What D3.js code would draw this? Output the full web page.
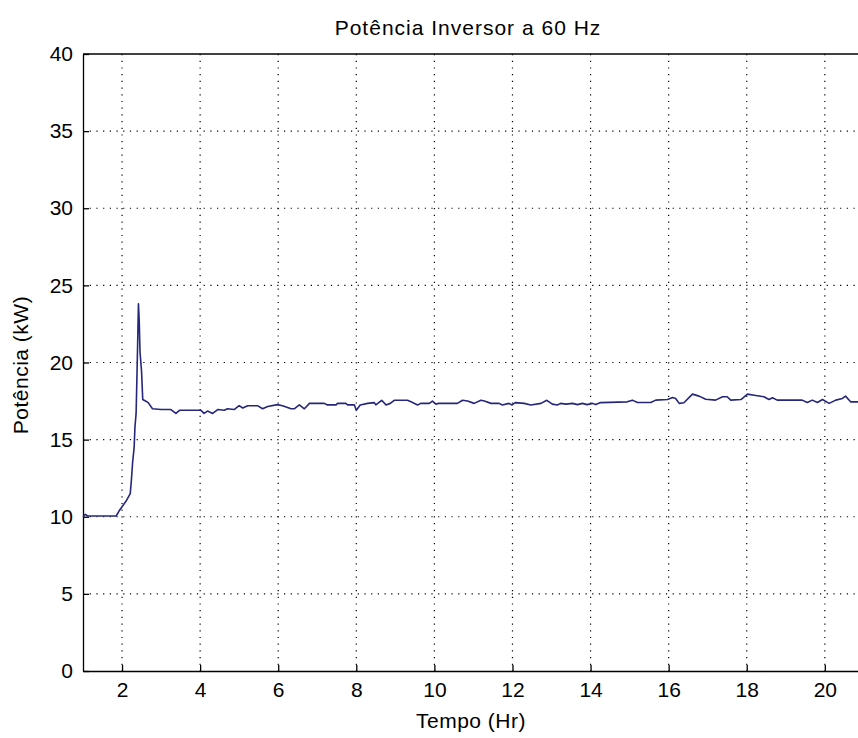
<!DOCTYPE html>
<html>
<head>
<meta charset="utf-8">
<script src="https://d3js.org/d3.v7.min.js"></script>
<style>
  body { margin: 0; background: #ffffff; }
  text { font-family: "Liberation Sans", Arial, sans-serif; fill: #000; }
</style>
</head>
<body>
<div id="chart"></div>
<script>
// Data: time in hours, inverter power in kW
var timeHr = [1.0, 1.06, 1.12, 1.85, 1.93, 2.1, 2.21, 2.24, 2.27, 2.31, 2.33, 2.36, 2.38, 2.40, 2.42,
  2.44, 2.46, 2.50, 2.53, 2.60, 2.67, 2.78, 3.0, 3.25, 3.38, 3.47, 4.02, 4.1, 4.19, 4.32, 4.45,
  4.62, 4.7, 4.87, 5.0, 5.09, 5.22, 5.47, 5.6, 5.73, 5.98, 6.11, 6.33, 6.41, 6.54, 6.67, 6.8,
  7.18, 7.26, 7.48, 7.52, 7.73, 7.78, 7.95, 8.0, 8.1, 8.29, 8.46, 8.5, 8.65, 8.76, 8.87, 8.97,
  9.31, 9.4, 9.57, 9.65, 9.87, 9.95, 10.04, 10.1, 10.59, 10.72, 10.85, 11.02, 11.19, 11.28,
  11.45, 11.66, 11.74, 11.91, 11.99, 12.07, 12.3, 12.47, 12.73, 12.88, 13.02, 13.15, 13.23,
  13.37, 13.54, 13.66, 13.79, 13.91, 14.05, 14.13, 14.26, 14.94, 15.07, 15.2, 15.54, 15.67,
  15.97, 16.1, 16.18, 16.27, 16.39, 16.61, 16.78, 16.95, 17.2, 17.38, 17.5, 17.59, 17.85,
  18.02, 18.19, 18.44, 18.57, 18.66, 18.78, 19.42, 19.55, 19.68, 19.81, 19.94, 20.11, 20.28,
  20.45, 20.53, 20.66, 21.0];

var powerKW = [10.0, 10.15, 10.05, 10.05, 10.4, 11.0, 11.5, 12.4, 13.5, 14.5, 15.8, 16.7, 18.9, 21.3, 23.8,
  22.7, 20.7, 19.4, 17.6, 17.5, 17.4, 17.0, 16.95, 16.95, 16.7, 16.9, 16.9, 16.7, 16.85, 16.7, 16.95,
  16.9, 17.0, 16.95, 17.2, 17.05, 17.2, 17.2, 17.0, 17.15, 17.27, 17.2, 17.0, 17.0, 17.25, 17.0, 17.35,
  17.35, 17.25, 17.25, 17.35, 17.35, 17.25, 17.25, 16.9, 17.25, 17.35, 17.4, 17.25, 17.55, 17.25, 17.35, 17.55,
  17.55, 17.45, 17.25, 17.35, 17.35, 17.5, 17.3, 17.35, 17.35, 17.55, 17.5, 17.35, 17.55, 17.5,
  17.35, 17.35, 17.25, 17.35, 17.25, 17.4, 17.35, 17.25, 17.35, 17.55, 17.3, 17.25, 17.35,
  17.3, 17.35, 17.27, 17.35, 17.27, 17.35, 17.27, 17.4, 17.45, 17.56, 17.41, 17.41, 17.56,
  17.6, 17.73, 17.67, 17.35, 17.39, 17.95, 17.82, 17.62, 17.56, 17.78, 17.78, 17.56, 17.6,
  17.95, 17.88, 17.78, 17.6, 17.71, 17.56, 17.56, 17.41, 17.56, 17.41, 17.6, 17.35, 17.56,
  17.67, 17.82, 17.45, 17.45];

var xTicks = [2, 4, 6, 8, 10, 12, 14, 16, 18, 20];
var yTicks = [0, 5, 10, 15, 20, 25, 30, 35, 40];

var titleText = "Potência Inversor a 60 Hz";
var xLabelText = "Tempo (Hr)";
var yLabelText = "Potência (kW)";

// Window size, the axes run past the right edge like in the cropped figure
var svgWidth = 858;
var svgHeight = 738;
var margin = { top: 54, left: 83 };
var chartWidth = 898;
var chartHeight = 617;

var svg = d3.select("#chart").append("svg")
  .attr("width", svgWidth)
  .attr("height", svgHeight);

var chartGroup = svg.append("g")
  .attr("transform", `translate(${margin.left}, ${margin.top})`);

var xScale = d3.scaleLinear().domain([1, 24]).range([0, chartWidth]);
var yScale = d3.scaleLinear().domain([0, 40]).range([chartHeight, 0]);

// dotted grid
chartGroup.append("g")
  .selectAll("line")
  .data(xTicks)
  .enter()
  .append("line")
  .attr("x1", d => xScale(d)).attr("x2", d => xScale(d))
  .attr("y1", 0).attr("y2", chartHeight)
  .attr("stroke", "#000")
  .attr("stroke-width", 1.2)
  .attr("stroke-dasharray", "1.2,5.5");

chartGroup.append("g")
  .selectAll("line")
  .data(yTicks.slice(1, -1))
  .enter()
  .append("line")
  .attr("x1", 0).attr("x2", chartWidth)
  .attr("y1", d => yScale(d)).attr("y2", d => yScale(d))
  .attr("stroke", "#000")
  .attr("stroke-width", 1.2)
  .attr("stroke-dasharray", "1.2,5.5");

// axes with ticks pointing inward, MATLAB style
var xAxis = d3.axisBottom(xScale).tickValues(xTicks).tickSizeInner(-6).tickSizeOuter(0).tickPadding(11);
var yAxis = d3.axisLeft(yScale).tickValues(yTicks).tickSizeInner(-6).tickSizeOuter(0).tickPadding(10);

var xAxisG = chartGroup.append("g")
  .attr("transform", `translate(0,${chartHeight})`)
  .call(xAxis);

var yAxisG = chartGroup.append("g")
  .call(yAxis);

// top border
chartGroup.append("line")
  .attr("x1", 0).attr("x2", chartWidth)
  .attr("y1", 0).attr("y2", 0)
  .attr("stroke", "#000")
  .attr("stroke-width", 1.3);

[xAxisG, yAxisG].forEach(function(g) {
  g.select(".domain").attr("stroke", "#000").attr("stroke-width", 1.3);
  g.selectAll(".tick line").attr("stroke", "#000").attr("stroke-width", 1.3);
  g.selectAll(".tick text").attr("font-size", "21px").attr("fill", "#000")
    .style("font-family", "'Liberation Sans', Arial, sans-serif");
});

// the power curve
var points = timeHr.map((t, i) => [t, powerKW[i]]);
var line = d3.line()
  .x(d => xScale(d[0]))
  .y(d => yScale(d[1]));

chartGroup.append("path")
  .datum(points)
  .attr("d", line)
  .attr("fill", "none")
  .attr("stroke", "#26267a")
  .attr("stroke-width", 1.6)
  .attr("stroke-linejoin", "round");

// title and labels
svg.append("text")
  .attr("x", 468)
  .attr("y", 35)
  .attr("text-anchor", "middle")
  .attr("font-size", "21px")
  .attr("letter-spacing", "1px")
  .text(titleText);

svg.append("text")
  .attr("x", 471)
  .attr("y", 728)
  .attr("text-anchor", "middle")
  .attr("font-size", "21px")
  .attr("letter-spacing", "0.5px")
  .text(xLabelText);

svg.append("text")
  .attr("transform", "translate(28, 365) rotate(-90)")
  .attr("text-anchor", "middle")
  .attr("font-size", "21px")
  .attr("letter-spacing", "0.5px")
  .text(yLabelText);
</script>
</body>
</html>
